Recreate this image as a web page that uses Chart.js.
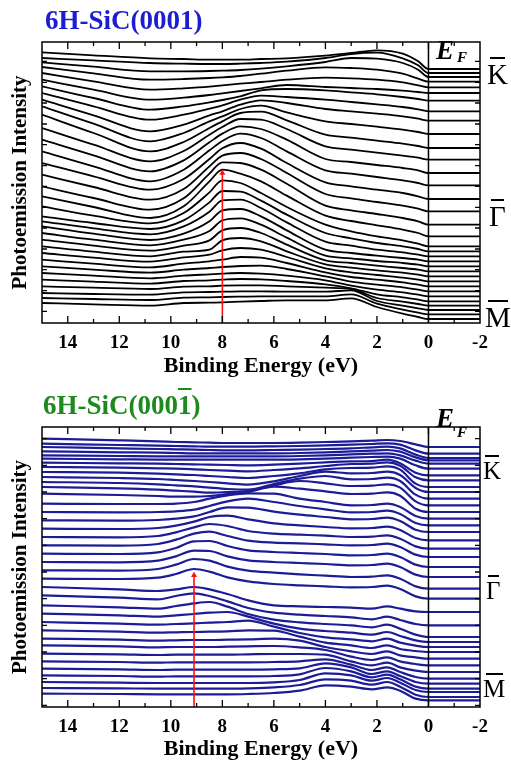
<!DOCTYPE html>
<html>
<head>
<meta charset="utf-8">
<script src="https://cdn.jsdelivr.net/npm/chart.js@4.4.1/dist/chart.umd.min.js"></script>
<style>
  body { margin: 0; background: #fff; }
  #wrap { position: relative; width: 511px; height: 765px; overflow: hidden; font-family: 'Liberation Serif', 'Times New Roman', serif; }
  canvas { position: absolute; left: 0; }
  .lbl { position: absolute; line-height: 1; white-space: nowrap; }
  .ttl { font-weight: bold; font-size: 27px; }
  .ef { font-weight: bold; font-style: italic; }
  .pt { padding-top: 3px; }
  .pt::before { content: ''; position: absolute; top: 0; left: 12%; right: 12%; height: 2px; background: #000; }
  .ob { text-decoration: overline; text-decoration-thickness: 2px; }
</style>
</head>
<body>
<div id="wrap">
  <canvas id="topChart" width="511" height="385" style="top:0"></canvas>
  <canvas id="bottomChart" width="511" height="380" style="top:385px"></canvas>

  <div class="lbl ttl" style="left:45px; top:7px; color:#1c1cd2">6H-SiC(0001)</div>
  <div class="lbl ef" style="left:436px; top:37px; font-size:27px">E</div>
  <div class="lbl ef" style="left:457px; top:50px; font-size:15px">F</div>
  <div class="lbl pt" style="left:487px; top:57px; font-size:29px">K</div>
  <div class="lbl pt" style="left:489px; top:199px; font-size:29px">Γ</div>
  <div class="lbl pt" style="left:485px; top:300px; font-size:29px">M</div>

  <div class="lbl ttl" style="left:43px; top:392px; color:#1e8a1e">6H-SiC(000<span class="ob">1</span>)</div>
  <div class="lbl ef" style="left:436px; top:405px; font-size:27px">E</div>
  <div class="lbl ef" style="left:457px; top:425px; font-size:15px">F</div>
  <div class="lbl pt" style="left:483px; top:455px; font-size:25px">K</div>
  <div class="lbl pt" style="left:486px; top:575px; font-size:25px">Γ</div>
  <div class="lbl pt" style="left:483px; top:673px; font-size:25px">M</div>
</div>

<script>
// binding energies (eV) where each spectrum was read
const topEnergies = [15, 13, 10.8, 9.5, 8.5, 8, 7.3, 6.5, 5.5, 4, 3, 2, 1, 0.4, 0, -2];
const bottomEnergies = [15, 12, 10.5, 9.8, 9.1, 8.5, 7.8, 7, 6, 5, 4, 3, 2.2, 1.6, 1.1, 0.5, 0, -2];
const energyTicks = [14, 12, 10, 8, 6, 4, 2, 0, -2];

// 6H-SiC(0001): stacked spectra, top (K) to bottom (M), arb. units
const topSpectra = [
  [812,803,794,792,790,790,790,792,794,802,810,818,808,785,762,762],
  [795,788,780,778,777,777,778,780,784,795,807,811,794,773,750,750],
  [782,769,755,755,756,757,759,763,770,783,795,793,780,760,738,738],
  [768,749,730,732,735,737,741,748,757,767,765,760,748,733,724,724],
  [750,725,700,704,709,713,718,723,730,736,734,730,722,713,707,707],
  [730,700,670,676,684,689,696,704,714,708,705,702,697,693,690,690],
  [710,675,640,650,662,669,680,698,702,698,692,686,678,672,667,667],
  [690,650,610,625,643,653,670,682,678,670,663,656,648,641,635,635],
  [670,623,575,595,623,635,655,668,660,642,635,628,620,613,607,607],
  [650,598,545,570,605,620,642,652,632,605,597,589,580,573,567,567],
  [625,570,515,543,585,605,630,634,608,565,556,547,538,531,525,525],
  [585,535,485,516,565,588,612,610,582,530,520,511,502,496,490,490],
  [550,503,455,488,542,568,590,582,550,492,483,474,465,458,450,450],
  [515,470,425,460,518,546,568,555,515,458,448,438,428,420,413,413],
  [480,440,400,432,492,524,540,523,480,422,410,400,390,380,372,372],
  [445,408,370,402,470,502,510,492,450,387,374,363,352,343,335,335],
  [410,375,340,374,448,482,480,460,418,352,338,327,315,305,295,295],
  [380,348,315,350,425,460,448,425,382,322,306,293,280,270,260,260],
  [350,322,299,330,392,428,420,390,348,295,275,260,248,238,230,230],
  [320,300,282,308,362,396,394,367,325,270,254,240,230,222,215,215],
  [305,284,266,290,334,368,370,345,302,244,232,220,212,205,200,200],
  [290,268,249,268,305,338,342,320,278,220,210,202,195,190,185,185],
  [270,250,233,250,276,308,314,295,256,202,194,186,180,175,170,170],
  [250,232,217,232,248,278,285,270,235,188,180,172,165,160,155,155],
  [230,214,200,214,220,248,255,245,215,176,166,158,151,145,140,140],
  [210,196,184,197,205,218,225,220,198,164,152,144,136,130,125,125],
  [190,178,167,178,185,190,198,196,180,152,138,130,122,115,110,110],
  [170,160,151,160,165,168,171,172,162,140,124,115,107,100,95,95],
  [150,142,134,142,146,148,150,148,142,128,112,100,92,85,80,80],
  [130,124,118,126,128,130,132,131,126,116,104,86,77,70,65,65],
  [110,106,102,109,110,112,113,113,110,106,102,75,64,57,52,52],
  [90,87,85,92,93,94,95,95,94,94,98,66,52,44,39,39],
  [75,72,69,76,77,78,79,80,80,80,86,58,40,31,26,26],
  [60,56,52,60,61,62,64,66,68,68,74,48,28,18,12,12]
];

// 6H-SiC(000-1): stacked spectra, top (K) to bottom (M), arb. units
const bottomSpectra = [
  [805,800,797,795,794,793,792,792,792,793,795,797,799,801,798,788,780,780],
  [790,786,784,783,782,781,781,781,782,783,785,787,789,791,787,770,760,760],
  [780,776,774,773,772,771,770,770,771,772,774,776,779,781,776,757,747,747],
  [767,764,763,762,761,761,761,761,761,762,764,767,769,771,766,749,740,740],
  [755,753,752,752,752,752,752,752,752,753,755,758,760,761,755,739,730,730],
  [745,743,742,742,742,742,742,742,742,743,745,748,750,751,745,725,715,715],
  [733,731,730,729,728,727,726,725,727,730,734,737,738,742,731,703,695,695],
  [720,718,716,715,713,711,709,707,711,716,723,729,730,734,724,689,680,680],
  [705,703,700,698,696,693,690,687,693,701,713,717,718,722,712,670,660,660],
  [690,687,684,681,678,675,671,667,677,693,706,701,702,706,696,657,645,645],
  [675,672,668,665,662,658,654,652,669,685,693,683,684,688,678,637,625,625],
  [660,656,652,649,646,643,645,648,665,678,671,663,664,668,658,617,605,605],
  [640,636,633,631,631,633,639,645,661,655,647,639,640,644,634,595,585,585],
  [610,609,609,610,615,625,635,641,640,625,615,605,606,610,600,573,565,565],
  [585,584,585,587,592,603,617,625,615,603,593,584,585,589,579,552,545,545],
  [560,559,561,565,572,585,599,598,586,577,570,563,564,568,558,532,525,525],
  [535,534,537,544,556,570,574,563,551,545,540,536,537,541,531,507,500,500],
  [510,509,513,524,539,549,543,528,520,517,514,510,511,515,505,482,475,475],
  [485,484,489,502,520,526,513,499,493,491,488,485,486,490,480,457,450,450],
  [460,459,464,477,497,498,483,470,465,462,459,455,456,460,450,427,420,420],
  [435,434,439,452,469,468,452,440,435,432,429,425,426,430,420,397,390,390],
  [410,409,414,427,444,439,421,409,403,398,394,390,391,395,385,362,355,355],
  [385,384,388,399,414,406,389,377,369,365,362,359,360,364,354,332,325,325],
  [360,353,348,353,360,353,339,320,305,302,300,298,295,302,295,287,285,285],
  [335,328,323,333,341,333,317,297,283,277,273,269,263,271,261,249,245,245],
  [305,299,295,303,311,315,301,279,262,254,249,245,239,247,235,217,210,210],
  [280,275,271,275,279,283,285,271,250,235,228,223,217,225,213,200,195,195],
  [255,250,247,249,251,253,255,259,241,222,209,203,197,205,193,184,180,180],
  [230,226,223,224,225,226,227,230,229,211,193,185,177,185,174,168,165,165],
  [205,202,199,200,201,201,202,203,205,199,180,167,159,167,155,149,145,145],
  [185,182,179,180,180,180,181,182,183,179,171,151,141,149,137,129,125,125],
  [160,158,156,157,157,157,157,158,159,159,157,137,125,133,119,109,105,105],
  [137,135,133,134,134,134,134,134,135,137,143,127,111,119,105,90,85,85],
  [115,113,111,112,112,112,112,112,113,116,131,119,99,107,93,75,70,70],
  [95,93,91,92,92,92,92,92,93,98,117,107,89,97,83,61,55,55],
  [75,73,72,72,72,72,72,72,74,81,101,95,79,87,73,51,45,45],
  [57,56,55,55,55,55,55,56,59,66,83,79,67,75,61,37,30,30],
  [40,39,38,38,38,38,38,39,42,49,65,61,53,59,49,25,20,20]
];

// red marker: energy of the peak at Gamma and the height it reaches
const markerEnergy = [8, 9.1];
const markerTop = [450, 395];
const intensityMax = [843, 840];
const topSideTicks = [35, 97, 160, 222, 285, 347, 410, 472, 535, 597, 660, 722, 785];
const bottomSideTicks = [5, 85, 165, 245, 325, 405, 485, 565, 645, 725, 805];

const FONT = "'Liberation Serif', 'Times New Roman', serif";

// box round the plot with inward ticks, like the original figure
const framePlugin = {
  id: 'frame',
  afterDatasetsDraw(chart, args, opts) {
    const { ctx, chartArea: a, scales: { x, y } } = chart;
    ctx.save();
    ctx.strokeStyle = '#000';
    ctx.lineWidth = 1.5;
    ctx.strokeRect(a.left, a.top, a.right - a.left, a.bottom - a.top);
    ctx.lineWidth = 1.3;
    ctx.beginPath();
    for (let e = -1; e <= 14; e++) {
      const px = x.getPixelForValue(e);
      const len = e % 2 === 0 ? 7 : 4;
      ctx.moveTo(px, a.bottom); ctx.lineTo(px, a.bottom - len);
      ctx.moveTo(px, a.top); ctx.lineTo(px, a.top + len);
    }
    opts.sideTicks.forEach(v => {
      const py = y.getPixelForValue(v);
      ctx.moveTo(a.left, py); ctx.lineTo(a.left + 5, py);
      ctx.moveTo(a.right, py); ctx.lineTo(a.right - 5, py);
    });
    ctx.stroke();
    ctx.restore();
  }
};

function renderPanel(canvasId, energies, spectra, color, lineWidth, panel, sideTicks, axisHeight, titlePad) {
    const datasets = spectra.map(row => ({
        data: energies.map((e, j) => ({ x: e, y: row[j] })),
        borderColor: color,
        borderWidth: lineWidth,
        pointRadius: 0,
        cubicInterpolationMode: 'monotone',
        fill: false,
        order: 2
    }));
    // Fermi level
    datasets.push({
        data: [{ x: 0, y: 0 }, { x: 0, y: intensityMax[panel] }],
        borderColor: '#000', borderWidth: 1.5, pointRadius: 0, order: 1
    });
    // red arrow at the Gamma peak
    datasets.push({
        data: [{ x: markerEnergy[panel], y: 0 }, { x: markerEnergy[panel], y: markerTop[panel] }],
        borderColor: '#ff1010', borderWidth: 1.6,
        pointRadius: [0, 3.5], pointStyle: 'triangle',
        pointBackgroundColor: '#ff1010', pointBorderWidth: 0, order: 0
    });

    new Chart(document.getElementById(canvasId).getContext('2d'), {
        type: 'line',
        data: { datasets },
        options: {
            animation: false,
            responsive: false,
            devicePixelRatio: 1,
            layout: { padding: { top: 42, right: 31, left: 0, bottom: 0 } },
            plugins: {
                legend: { display: false },
                tooltip: { enabled: false },
                frame: { sideTicks }
            },
            scales: {
                x: {
                    type: 'linear', min: -2, max: 15, reverse: true,
                    afterBuildTicks: s => { s.ticks = energyTicks.map(v => ({ value: v })); },
                    afterFit: s => { s.height = axisHeight; },
                    grid: { display: false, drawTicks: false },
                    border: { display: false },
                    ticks: { font: { family: FONT, size: 19, weight: 'bold' }, color: '#000', padding: 9, maxRotation: 0, autoSkip: false },
                    title: { display: true, text: 'Binding Energy (eV)', color: '#000',
                             font: { family: FONT, size: 22, weight: 'bold' }, padding: { top: 0, bottom: titlePad } }
                },
                y: {
                    type: 'linear', min: 0, max: intensityMax[panel],
                    afterFit: s => { s.width = 42; },
                    grid: { display: false, drawTicks: false },
                    border: { display: false },
                    ticks: { display: false },
                    title: { display: true, text: 'Photoemission Intensity', color: '#000',
                             font: { family: FONT, size: 21, weight: 'bold' }, padding: { top: 8, bottom: 0 } }
                }
            }
        },
        plugins: [framePlugin]
    });
}

renderPanel('topChart', topEnergies, topSpectra, '#000', 1.8, 0, topSideTicks, 62, 5);
renderPanel('bottomChart', bottomEnergies, bottomSpectra, '#1c1c98', 2.2, 1, bottomSideTicks, 58, 2);
</script>
</body>
</html>
